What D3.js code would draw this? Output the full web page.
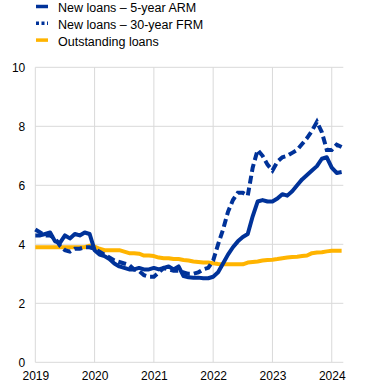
<!DOCTYPE html>
<html><head><meta charset="utf-8">
<script src="https://cdn.jsdelivr.net/npm/d3@7"></script>
<style>body{margin:0;background:#fff}svg{display:block;font-family:"Liberation Sans",Arial,sans-serif}</style>
</head><body><svg id="c" width="370" height="387"></svg>
<script>
// Monthly observations, Jan 2019 .. Mar 2024
const startYear = 2019;
const arm5 = [4.3,4.3,4.35,4.4,4.1,4.05,4.3,4.2,4.35,4.3,4.4,4.35,
  3.8,3.65,3.6,3.5,3.35,3.25,3.2,3.15,3.15,3.2,3.15,3.15,
  3.2,3.15,3.2,3.25,3.15,3.25,2.92,2.88,2.87,2.87,2.85,2.85,
  2.9,3.05,3.35,3.65,3.9,4.1,4.25,4.35,4.95,5.45,5.5,5.45,
  5.45,5.55,5.7,5.65,5.8,6.0,6.2,6.35,6.5,6.65,6.9,6.95,
  6.6,6.42,6.45];
const frm30 = [4.5,4.4,4.3,4.3,4.2,3.95,3.8,3.75,3.85,3.85,3.9,3.9,
  3.85,3.75,3.65,3.55,3.45,3.4,3.35,3.3,3.15,3.1,2.95,2.9,
  2.9,3.05,3.2,3.15,3.1,3.1,3.05,3.0,3.0,3.05,3.15,3.2,
  3.45,4.0,4.5,5.1,5.5,5.75,5.75,5.65,6.6,7.2,7.0,6.7,
  6.5,6.8,6.95,7.0,7.1,7.2,7.4,7.6,7.85,8.15,7.8,7.2,
  7.2,7.38,7.3];
const outstanding = [3.9,3.9,3.9,3.9,3.9,3.9,3.9,3.9,3.9,3.9,3.9,3.95,
  3.92,3.85,3.8,3.8,3.8,3.8,3.75,3.7,3.7,3.68,3.62,3.62,
  3.6,3.55,3.53,3.53,3.5,3.5,3.47,3.45,3.42,3.4,3.38,3.38,
  3.36,3.33,3.32,3.32,3.32,3.32,3.32,3.38,3.4,3.42,3.45,3.47,
  3.48,3.5,3.53,3.55,3.57,3.58,3.6,3.62,3.7,3.72,3.73,3.76,
  3.78,3.78,3.78];
const xTicks = [2019,2020,2021,2022,2023,2024];
const yTicks = [0,2,4,6,8,10];
const seriesNames = ["New loans \u2013 5-year ARM","New loans \u2013 30-year FRM","Outstanding loans"];

const svg = d3.select("#c");
const x = d3.scaleLinear().domain([2019, 2024.195]).range([35.3, 343.3]);
const y = d3.scaleLinear().domain([0, 10]).range([362.3, 67.3]);
const grid = "#d9d9d9";

// gridlines
svg.append("g").selectAll("line").data(yTicks).join("line")
  .attr("x1", x.range()[0]).attr("x2", x.range()[1])
  .attr("y1", d => y(d)).attr("y2", d => y(d))
  .attr("stroke", grid).attr("stroke-width", 1);
svg.append("g").selectAll("line").data(xTicks).join("line")
  .attr("x1", d => x(d)).attr("x2", d => x(d))
  .attr("y1", y(0)).attr("y2", y(10))
  .attr("stroke", grid).attr("stroke-width", 1);

// axes labels
const yAxis = d3.axisLeft(y).tickValues(yTicks).tickSize(0).tickPadding(10);
svg.append("g").attr("transform", `translate(${x.range()[0]},0)`).call(yAxis)
  .call(g => g.select(".domain").remove())
  .selectAll("text").attr("font-size", 12).attr("fill", "#000")
  .attr("font-family", "Liberation Sans, Arial, sans-serif");
const xAxis = d3.axisBottom(x).tickValues(xTicks).tickFormat(d3.format("d")).tickSize(0).tickPadding(9);
svg.append("g").attr("transform", `translate(0,${y(0)})`).call(xAxis)
  .call(g => g.select(".domain").remove())
  .selectAll("text").attr("font-size", 12).attr("fill", "#000")
  .attr("font-family", "Liberation Sans, Arial, sans-serif");

const blue = "#003299", yellow = "#ffb400";
const line = d3.line().x((d, i) => x(startYear + i / 12)).y(d => y(d)).curve(d3.curveLinear);

svg.append("path").datum(outstanding).attr("d", line)
  .attr("fill", "none").attr("stroke", yellow).attr("stroke-width", 4).attr("stroke-linejoin", "round");
svg.append("path").datum(frm30).attr("d", line)
  .attr("fill", "none").attr("stroke", blue).attr("stroke-width", 4).attr("stroke-dasharray", "8,4");
svg.append("path").datum(arm5).attr("d", line)
  .attr("fill", "none").attr("stroke", blue).attr("stroke-width", 4).attr("stroke-linejoin", "round");

// legend
const leg = svg.append("g");
const rows = [
  {name: seriesNames[0], color: blue, dash: null},
  {name: seriesNames[1], color: blue, dash: "3,2.5"},
  {name: seriesNames[2], color: yellow, dash: null}
];
rows.forEach((r, i) => {
  const cy = 6.5 + i * 16.8;
  leg.append("line").attr("x1", 36).attr("x2", 48).attr("y1", cy).attr("y2", cy)
    .attr("stroke", r.color).attr("stroke-width", 3.5)
    .attr("stroke-dasharray", r.dash);
  leg.append("text").attr("x", 58).attr("y", cy + 3).attr("dy", "0.2em")
    .attr("font-size", 12.5).attr("fill", "#000").text(r.name);
});
</script></body></html>
